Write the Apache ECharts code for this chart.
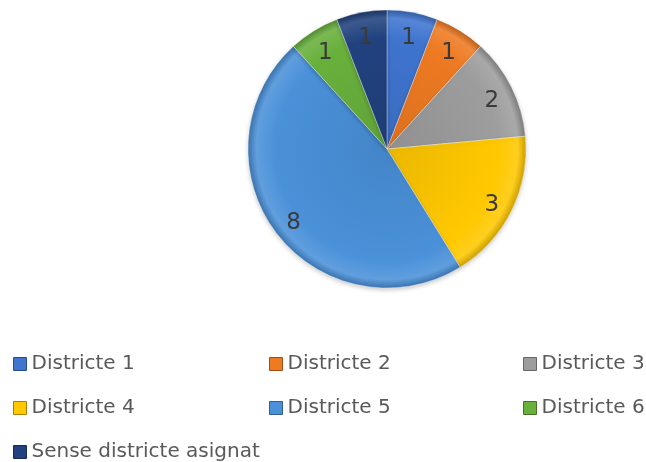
<!DOCTYPE html>
<html lang="ca">
<head>
    <meta charset="UTF-8">
    <title>Districtes</title>
    <script src="https://cdn.jsdelivr.net/npm/echarts@6/dist/echarts.min.js"></script>
    <style>
        html, body { margin: 0; padding: 0; background: #ffffff; }
        #chart { width: 646px; height: 462px; }
    </style>
</head>
<body>
    <div id="chart"></div>
    <script>
        // dades
        var categories = ['Districte 1', 'Districte 2', 'Districte 3', 'Districte 4', 'Districte 5', 'Districte 6', 'Sense districte asignat'];
        var values = [1, 1, 2, 3, 8, 1, 1];
        var colors = ['#3f74cf', '#ee7a22', '#9d9d9d', '#ffc800', '#4a91d9', '#68b03c', '#21427f'];

        var cx = 387, cy = 149, R = 139;

        function shade(hex, f) {
            var n = parseInt(hex.slice(1), 16);
            var r = (n >> 16) & 255, g = (n >> 8) & 255, b = n & 255;
            function c(v) {
                v = f > 0 ? v + (255 - v) * f : v * (1 + f);
                return Math.round(Math.max(0, Math.min(255, v)));
            }
            return 'rgb(' + c(r) + ',' + c(g) + ',' + c(b) + ')';
        }

        var pieData = categories.map(function (name, i) {
            return {
                name: name,
                value: values[i],
                itemStyle: {
                    color: new echarts.graphic.RadialGradient(cx, cy, R, [
                        { offset: 0, color: shade(colors[i], -0.08) },
                        { offset: 0.8, color: colors[i] },
                        { offset: 0.94, color: shade(colors[i], 0.12) },
                        { offset: 1, color: shade(colors[i], -0.2) }
                    ], true)
                }
            };
        });

        var labelData = categories.map(function (name, i) {
            return { name: name, value: values[i] };
        });

        var legendText = { fontSize: 20, color: '#595959', fontFamily: 'DejaVu Sans' };

        function col(idx, left) {
            return {
                orient: 'vertical',
                left: left,
                top: 354,
                padding: 0,
                height: 108,
                itemWidth: 13,
                itemHeight: 13,
                itemGap: 24,
                icon: 'rect',
                selectedMode: false,
                textStyle: legendText,
                data: idx.map(function (i) {
                    return {
                        name: categories[i],
                        itemStyle: {
                            color: colors[i],
                            borderColor: shade(colors[i], -0.35),
                            borderWidth: 1
                        }
                    };
                })
            };
        }

        var chart = echarts.init(document.getElementById('chart'));
        chart.setOption({
            backgroundColor: '#ffffff',
            animation: false,
            legend: [
                col([0, 3, 6], 13),
                col([1, 4], 269),
                col([2, 5], 523)
            ],
            series: [
                {
                    type: 'pie',
                    center: [cx, cy],
                    radius: [0, R],
                    startAngle: 90,
                    clockwise: true,
                    silent: true,
                    label: { show: false },
                    labelLine: { show: false },
                    itemStyle: {
                        borderColor: 'rgba(255,255,255,0.35)',
                        borderWidth: 1,
                        shadowBlur: 4,
                        shadowColor: 'rgba(0,0,0,0.2)',
                        shadowOffsetY: 2
                    },
                    data: pieData
                },
                {
                    // serie només per a les etiquetes, més a prop de la vora
                    type: 'pie',
                    center: [cx, cy],
                    radius: [0, 228],
                    startAngle: 90,
                    clockwise: true,
                    silent: true,
                    itemStyle: { color: 'rgba(0,0,0,0)', borderWidth: 0 },
                    label: {
                        show: true,
                        position: 'inside',
                        formatter: '{c}',
                        fontSize: 23,
                        color: '#3a3a3a',
                        fontFamily: 'DejaVu Sans'
                    },
                    labelLine: { show: false },
                    labelLayout: { dy: 4 },
                    data: labelData
                }
            ]
        });
    </script>
</body>
</html>
